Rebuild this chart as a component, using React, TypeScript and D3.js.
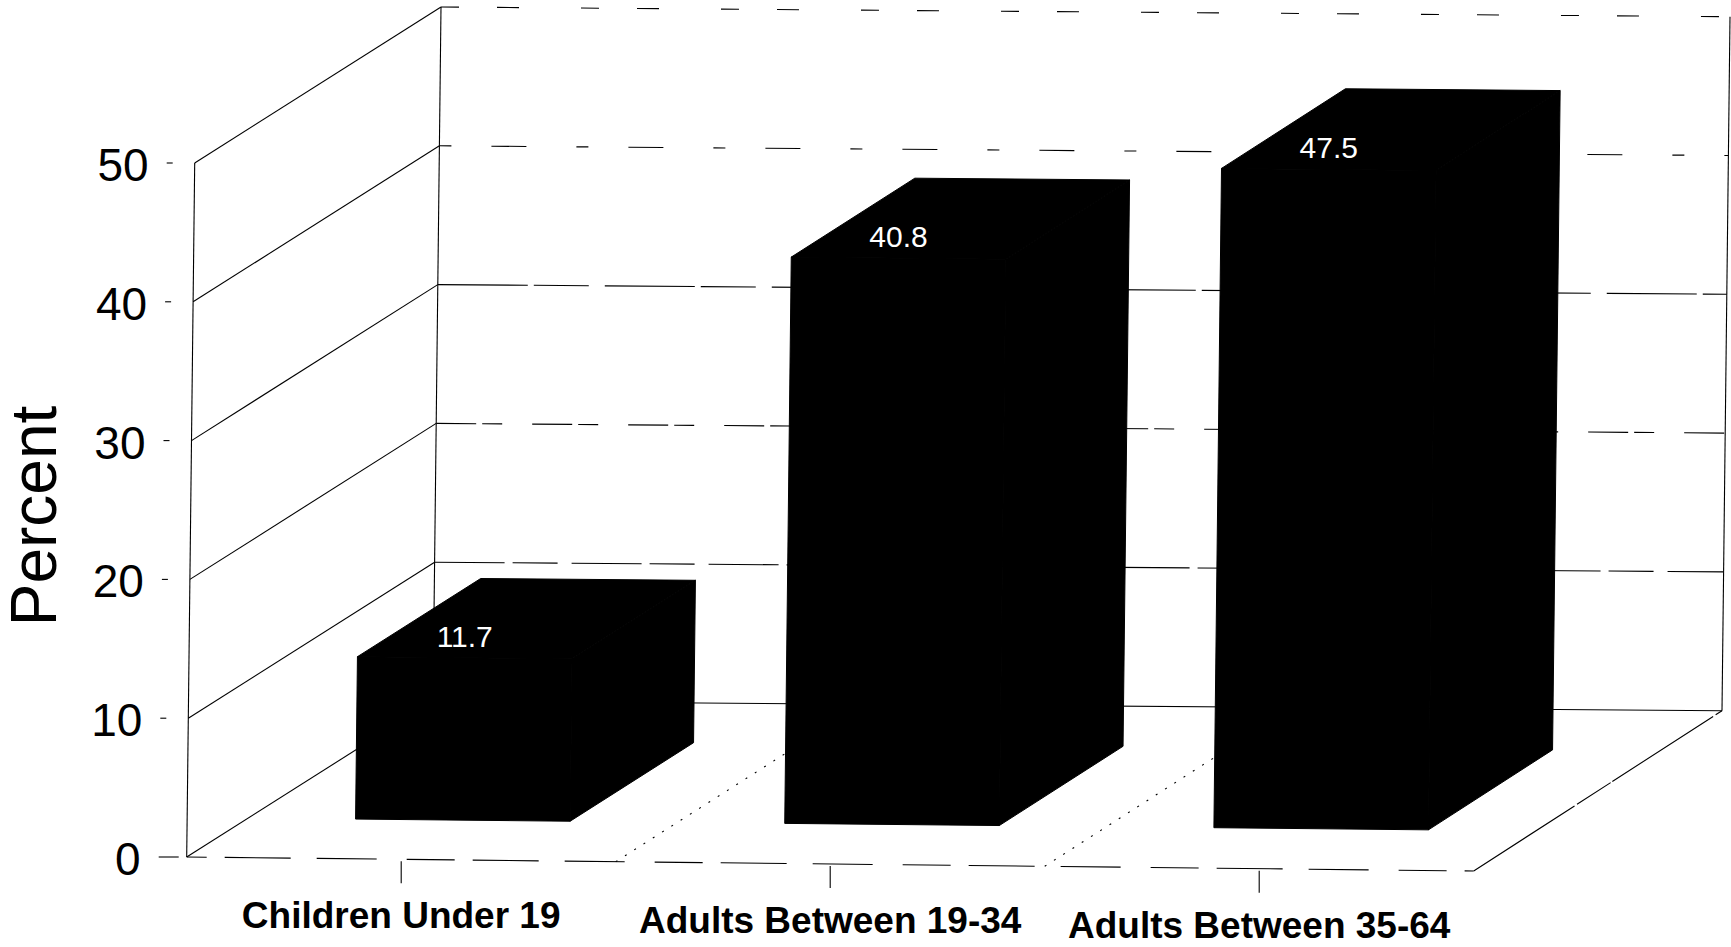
import React, { useEffect, useRef } from 'react';
import * as d3 from 'd3';

const categories = ['Children Under 19', 'Adults Between 19-34', 'Adults Between 35-64'];
const values = [11.7, 40.8, 47.5];
const valueTicks = [0, 10, 20, 30, 40, 50];
const axisTitle = 'Percent';

// the scan breaks the back gridlines up, one dash pattern per tick
const backGridDash = ['none', '70 8 45 14', '40 6 20 30', '90 6 55 16', '12 40 35 50', '18 38 22 62'];

const WIDTH = 1731;
const HEIGHT = 947;
const FONT = '"Liberation Sans", Arial, sans-serif';

const App: React.FC = () => {
    const ref = useRef<SVGSVGElement | null>(null);

    useEffect(() => {
        const svg = d3.select(ref.current);
        svg.selectAll('*').remove();

        // oblique projection: u along the floor, t into the depth, v the value
        const xFront = d3.scaleLinear().domain([0, 1]).range([186.7, 1473.7]);
        const xBack = d3.scaleLinear().domain([0, 1]).range([433, 1722]);
        const yFront = d3.scaleLinear().domain([0, 1]).range([857, 871]);
        const yBack = d3.scaleLinear().domain([0, 1]).range([701, 710.7]);
        const rise = d3.scaleLinear().domain([0, 50]).range([0, 694]);
        const lean = d3.scaleLinear().domain([0, 50]).range([0, 8]);

        const project = (u: number, t: number, v: number): [number, number] => [
            xFront(u) + (xBack(u) - xFront(u)) * t + lean(v),
            yFront(u) + (yBack(u) - yFront(u)) * t - rise(v),
        ];

        const band = d3.scaleBand<string>()
            .domain(categories)
            .range([0, 1])
            .paddingInner(0.5)
            .paddingOuter(0.25);

        const path = d3.line();
        const depthStart = 0.25;
        const depthEnd = 0.75;

        const segment = (a: [number, number], b: [number, number], dash = 'none', width = 1.1) => {
            svg.append('path')
                .attr('d', path([a, b]))
                .attr('fill', 'none')
                .attr('stroke', '#000')
                .attr('stroke-width', width)
                .attr('stroke-dasharray', dash);
        };

        // left wall
        segment(project(0, 0, 0), project(0, 0, 50));
        segment(project(0, 1, 0), project(0, 1, 50));
        valueTicks.forEach(v => {
            segment(project(0, 0, v), project(0, 1, v));
        });

        // back wall
        valueTicks.forEach((v, i) => {
            segment(project(0, 1, v), project(1, 1, v), backGridDash[i]);
        });
        segment(project(1, 1, 0), project(1, 1, 50));

        // floor
        segment(project(1, 0, 0), project(1, 1, 0), '120 3 40 2');
        svg.append('path')
            .attr('d', path([project(0, 0, 0), project(1, 0, 0)]))
            .attr('fill', 'none')
            .attr('stroke', '#000')
            .attr('stroke-width', 1.1)
            .attr('stroke-dasharray', '66 26 60 30 48 18')
            .attr('stroke-dashoffset', -38);
        [1 / 3, 2 / 3].forEach(u => {
            segment(project(u, 0, 0), project(u, 1, 0), '2 9');
        });

        // value ticks and labels
        valueTicks.forEach(v => {
            const [x, y] = project(0, 0, v);
            segment([x - 28, y], [x - 8, y], v === 0 ? 'none' : '6 14');
            svg.append('text')
                .attr('x', x - 46)
                .attr('y', y + 18)
                .attr('text-anchor', 'end')
                .attr('font-family', FONT)
                .attr('font-size', 46)
                .attr('fill', '#000')
                .text(v);
        });

        // bars, drawn as the three faces of each box
        categories.forEach((c, i) => {
            const u0 = band(c) as number;
            const u1 = u0 + band.bandwidth();
            const v = values[i];
            const faces: [number, number][][] = [
                [project(u0, depthStart, 0), project(u1, depthStart, 0), project(u1, depthStart, v), project(u0, depthStart, v)],
                [project(u1, depthStart, 0), project(u1, depthEnd, 0), project(u1, depthEnd, v), project(u1, depthStart, v)],
                [project(u0, depthStart, v), project(u1, depthStart, v), project(u1, depthEnd, v), project(u0, depthEnd, v)],
            ];
            faces.forEach(face => {
                svg.append('path')
                    .attr('d', path(face) + 'Z')
                    .attr('fill', '#000')
                    .attr('stroke', '#000')
                    .attr('stroke-width', 1);
            });

            const [lx, ly] = project((u0 + u1) / 2, depthStart, v);
            svg.append('text')
                .attr('x', lx)
                .attr('y', ly - 11)
                .attr('text-anchor', 'middle')
                .attr('font-family', FONT)
                .attr('font-size', 30)
                .attr('fill', '#fff')
                .text(v.toFixed(1));

            // category tick and label
            const [tx, ty] = project((u0 + u1) / 2, 0, 0);
            segment([tx, ty + 2], [tx, ty + 24]);
            svg.append('text')
                .attr('x', tx)
                .attr('y', ty + 69)
                .attr('text-anchor', 'middle')
                .attr('font-family', FONT)
                .attr('font-weight', 'bold')
                .attr('font-size', 37)
                .attr('fill', '#000')
                .text(c);
        });

        svg.append('text')
            .attr('transform', 'translate(56,516) rotate(-90)')
            .attr('text-anchor', 'middle')
            .attr('font-family', FONT)
            .attr('font-size', 64)
            .attr('fill', '#000')
            .text(axisTitle);
    }, []);

    return (
        <svg
            ref={ref}
            width={WIDTH}
            height={HEIGHT}
            style={{ position: 'absolute', left: 0, top: 0, display: 'block', background: '#fff' }}
        ></svg>
    );
};

export default App;
